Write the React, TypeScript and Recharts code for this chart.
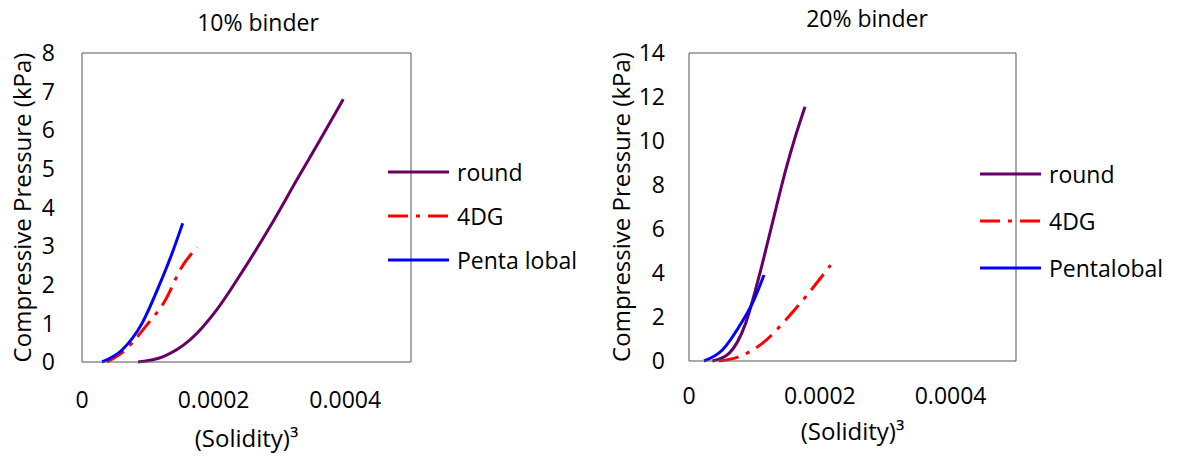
import React from 'react';
import { LineChart, Line, XAxis, YAxis, ReferenceLine, Legend } from 'recharts';

const FONT = '"Open Sans", sans-serif';

// 10% binder
const round10X = [0.0000851, 0.0001236, 0.0001641, 0.0002047, 0.0002451, 0.0002857, 0.0003263, 0.0003617, 0.0003971];
const round10Y = [0, 0.14, 0.57, 1.35, 2.38, 3.5, 4.71, 5.75, 6.8];
const dg10X = [0.000038, 0.0000658, 0.0000962, 0.0001266, 0.000152, 0.0001755];
const dg10Y = [0, 0.31, 0.91, 1.6, 2.47, 2.97];
const penta10X = [0.0000304, 0.0000608, 0.0000912, 0.0001165, 0.0001368, 0.000153];
const penta10Y = [0, 0.31, 1.0, 1.95, 2.81, 3.59];

// 20% binder
const round20X = [0.0000357, 0.0000612, 0.0000866, 0.000107, 0.0001274, 0.0001478, 0.0001631, 0.0001774];
const round20Y = [0, 0.35, 1.71, 3.83, 6.26, 8.68, 10.25, 11.56];
const dg20X = [0.0000459, 0.0000765, 0.0001121, 0.0001478, 0.0001784, 0.0002166];
const dg20Y = [0, 0.2, 0.8, 1.86, 2.92, 4.36];
const penta20X = [0.0000229, 0.000051, 0.0000765, 0.0000968, 0.0001147];
const penta20Y = [0, 0.5, 1.56, 2.62, 3.91];

const xTicks = [0, 0.0002, 0.0004];
const yTicks10 = [0, 1, 2, 3, 4, 5, 6, 7, 8];
const yTicks20 = [0, 2, 4, 6, 8, 10, 12, 14];

const ROUND_COLOR = '#660066';
const DG_COLOR = '#ff0000';
const PENTA_COLOR = '#0000ff';
const DG_DASH = '20 8 4 8';
const BOX = '#555';

const pts = (xs: number[], ys: number[]) => xs.map((x, i) => ({ x, y: ys[i] }));

type Series = { name: string; color: string; dash?: string; data: { x: number; y: number }[] };

function LegendBox({ series, gap }: { series: Series[]; gap: number }) {
  return (
    <div style={{ fontFamily: FONT, fontSize: 23, color: '#000' }}>
      {series.map((s) => (
        <div key={s.name} style={{ display: 'flex', alignItems: 'center', height: gap }}>
          <svg width={61} height={6} style={{ overflow: 'visible' }}>
            <line x1={0} y1={3} x2={61} y2={3} stroke={s.color} strokeWidth={3} strokeDasharray={s.dash} />
          </svg>
          <span style={{ marginLeft: 8 }}>{s.name}</span>
        </div>
      ))}
    </div>
  );
}

type PanelProps = {
  width: number;
  margin: { top: number; right: number; left: number; bottom: number };
  yWidth: number;
  xHeight: number;
  yMax: number;
  yTicks: number[];
  yTickMargin: number;
  xTickMargin: number;
  yLabelOffset: number;
  xLabelOffset: number;
  series: Series[];
  legendLeft: number;
  legendTop: number;
  legendGap: number;
};

function Panel(p: PanelProps) {
  return (
    <LineChart width={p.width} height={457} margin={p.margin} style={{ fontFamily: FONT }}>
      <XAxis
        dataKey="x"
        type="number"
        domain={[0, 0.0005]}
        ticks={xTicks}
        tickFormatter={(v: number) => String(v)}
        tickLine={false}
        tickMargin={p.xTickMargin}
        height={p.xHeight}
        fontSize={23}
        axisLine={{ stroke: BOX }}
        tick={{ fill: '#000', fontSize: 23 }}
        label={{ value: '(Solidity)³', position: 'insideBottom', offset: p.xLabelOffset, fill: '#000', fontSize: 24 }}
      />
      <YAxis
        type="number"
        domain={[0, p.yMax]}
        ticks={p.yTicks}
        tickLine={false}
        tickMargin={p.yTickMargin}
        width={p.yWidth}
        fontSize={23}
        axisLine={{ stroke: BOX }}
        tick={{ fill: '#000', fontSize: 23 }}
        label={{
          value: 'Compressive Pressure (kPa)',
          angle: -90,
          position: 'insideLeft',
          offset: p.yLabelOffset,
          fill: '#000',
          fontSize: 24,
          style: { textAnchor: 'middle' },
        }}
      />
      <ReferenceLine y={p.yMax} stroke={BOX} strokeWidth={1} />
      <ReferenceLine x={0.0005} stroke={BOX} strokeWidth={1} />
      {p.series.map((s) => (
        <Line
          key={s.name}
          data={s.data}
          dataKey="y"
          name={s.name}
          type="monotone"
          stroke={s.color}
          strokeWidth={3}
          strokeDasharray={s.dash}
          dot={false}
          activeDot={false}
          isAnimationActive={false}
        />
      ))}
      <Legend
        layout="vertical"
        align="center"
        verticalAlign="middle"
        content={() => <LegendBox series={p.series} gap={p.legendGap} />}
        wrapperStyle={{ left: p.legendLeft, top: p.legendTop, width: 230 }}
      />
    </LineChart>
  );
}

export default function App() {
  return (
    <div style={{ position: 'absolute', left: 0, top: 0, width: 1178, height: 457, background: '#fff', fontFamily: FONT }}>
      <div style={{ position: 'absolute', left: 158, top: 9, width: 200, textAlign: 'center', fontSize: 23, lineHeight: '26px' }}>
        10% binder
      </div>
      <div style={{ position: 'absolute', left: 767, top: 5, width: 200, textAlign: 'center', fontSize: 23, lineHeight: '26px' }}>
        20% binder
      </div>
      <div style={{ position: 'absolute', left: 0, top: 0 }}>
        <Panel
          width={590}
          margin={{ top: 53, right: 179, left: 0, bottom: 0 }}
          yWidth={82}
          xHeight={95}
          yMax={8}
          yTicks={yTicks10}
          yTickMargin={21}
          xTickMargin={24}
          yLabelOffset={22}
          xLabelOffset={10}
          series={[
            { name: 'round', color: ROUND_COLOR, data: pts(round10X, round10Y) },
            { name: '4DG', color: DG_COLOR, dash: DG_DASH, data: pts(dg10X, dg10Y) },
            { name: 'Penta lobal', color: PENTA_COLOR, data: pts(penta10X, penta10Y) },
          ]}
          legendLeft={388}
          legendTop={150}
          legendGap={44}
        />
      </div>
      <div style={{ position: 'absolute', left: 590, top: 0 }}>
        <Panel
          width={588}
          margin={{ top: 53, right: 162, left: 0, bottom: 0 }}
          yWidth={99}
          xHeight={96}
          yMax={14}
          yTicks={yTicks20}
          yTickMargin={18}
          xTickMargin={21}
          yLabelOffset={31}
          xLabelOffset={17}
          series={[
            { name: 'round', color: ROUND_COLOR, data: pts(round20X, round20Y) },
            { name: '4DG', color: DG_COLOR, dash: DG_DASH, data: pts(dg20X, dg20Y) },
            { name: 'Pentalobal', color: PENTA_COLOR, data: pts(penta20X, penta20Y) },
          ]}
          legendLeft={390}
          legendTop={150}
          legendGap={47}
        />
      </div>
    </div>
  );
}
